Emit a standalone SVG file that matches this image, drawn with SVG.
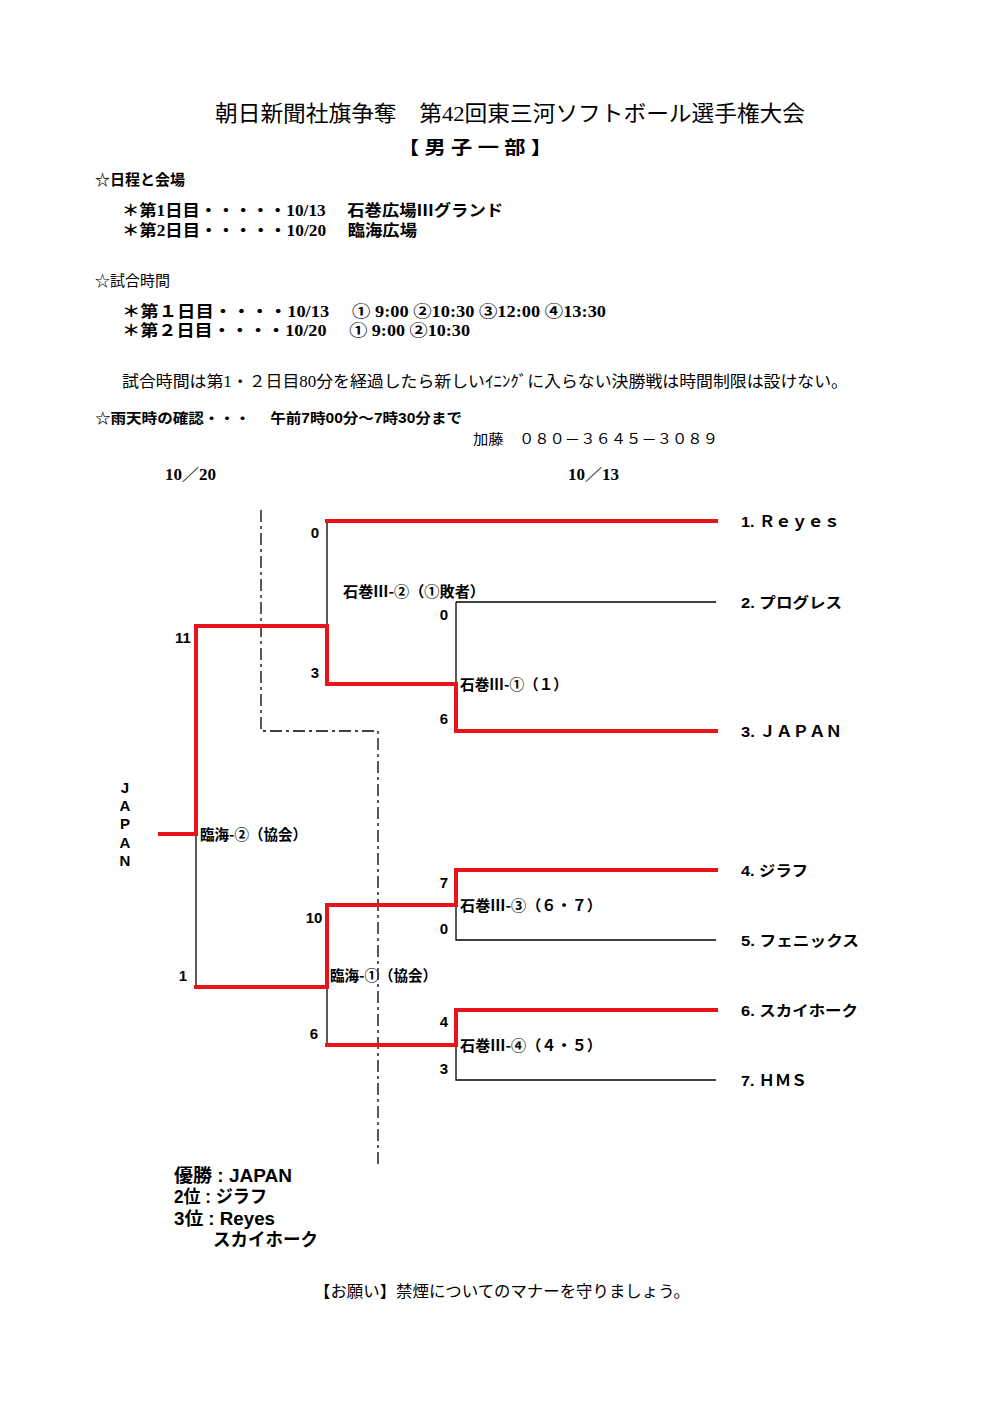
<svg xmlns="http://www.w3.org/2000/svg" width="992" height="1404" viewBox="0 0 992 1404">
<style>
.bg{fill:#fff}
.mi{font-family:"Liberation Serif","Noto Sans CJK JP",serif;fill:#000}
.go{font-family:"Liberation Sans","Noto Sans CJK JP",sans-serif;fill:#000}
.b{font-weight:bold}
.red{stroke:#e8131b;stroke-width:4;fill:none;stroke-linecap:square}
.blk{stroke:#000;stroke-width:1.3;fill:none}
.dash{stroke:#000;stroke-width:1.3;fill:none;stroke-dasharray:12,4,3,4}
.sc{font-family:"Liberation Sans","Noto Sans CJK JP",sans-serif;font-size:15px;font-weight:bold;fill:#000}
.lb{font-family:"Noto Sans CJK JP","Liberation Sans",sans-serif;font-size:15px;font-weight:bold;fill:#000}
.tm{font-family:"Liberation Sans","Noto Sans CJK JP",sans-serif;font-size:15px;font-weight:bold;fill:#000}
</style>
<rect class="bg" x="0" y="0" width="992" height="1404"/>
<g id="header">
<text class="mi" x="215" y="121" font-size="22" textLength="590" lengthAdjust="spacingAndGlyphs">朝日新聞社旗争奪　第42回東三河ソフトボール選手権大会</text>
<text class="mi b" x="398" y="154" font-size="18" textLength="154" lengthAdjust="spacingAndGlyphs">【 男 子 一 部 】</text>
<text class="go b" x="95" y="185" font-size="15">☆日程と会場</text>
<text class="mi b" x="122" y="216" font-size="16" textLength="381" lengthAdjust="spacingAndGlyphs">＊第1日目・・・・・10/13　 石巻広場Ⅲグランド</text>
<text class="mi b" x="122" y="236" font-size="16" textLength="295" lengthAdjust="spacingAndGlyphs">＊第2日目・・・・・10/20　 臨海広場</text>
<text class="go" x="95" y="286" font-size="15">☆試合時間</text>
<text class="mi b" x="122" y="317" font-size="16" textLength="484" lengthAdjust="spacingAndGlyphs">＊第１日目・・・・10/13　 ①  9:00  ②10:30  ③12:00  ④13:30</text>
<text class="mi b" x="122" y="336" font-size="16" textLength="348" lengthAdjust="spacingAndGlyphs">＊第２日目・・・・10/20　 ①  9:00  ②10:30</text>
<text class="mi" x="122" y="387" font-size="16" textLength="726" lengthAdjust="spacingAndGlyphs">試合時間は第1・２日目80分を経過したら新しいｲﾆﾝｸﾞに入らない決勝戦は時間制限は設けない。</text>
<text class="go b" x="95" y="423" font-size="14" textLength="367" lengthAdjust="spacingAndGlyphs">☆雨天時の確認・・・　 午前7時00分～7時30分まで</text>
<text class="go" x="473" y="444" font-size="14" textLength="245" lengthAdjust="spacingAndGlyphs">加藤　０８０－３６４５－３０８９</text>
<text class="mi b" x="165" y="480" font-size="16" textLength="51" lengthAdjust="spacingAndGlyphs">10／20</text>
<text class="mi b" x="568" y="480" font-size="16" textLength="51" lengthAdjust="spacingAndGlyphs">10／13</text>
</g>
<g id="connectors">
<path class="dash" d="M261,510 V731 H378 V1165"/>
<path class="blk" d="M327,521 V626"/>
<path class="blk" d="M456,602 H716 M456,602 V684"/>
<path class="blk" d="M196,834 V987"/>
<path class="blk" d="M456,905 V940 H716"/>
<path class="blk" d="M327,987 V1045"/>
<path class="blk" d="M456,1045 V1080 H716"/>
<path class="red" d="M327,521 H716"/>
<path class="red" d="M716,731 H456 V684 H327 V626 H196 V834 H160"/>
<path class="red" d="M716,870 H456 V905 H327 V987 H196"/>
<path class="red" d="M716,1010 H456 V1045 H327"/>
</g>
<g id="teams">
<g id="team1"><text class="tm" x="741" y="527" textLength="99" lengthAdjust="spacingAndGlyphs">1. Ｒｅｙｅｓ</text></g>
<g id="team2"><text class="tm" x="741" y="608" textLength="101" lengthAdjust="spacingAndGlyphs">2. プログレス</text></g>
<g id="team3"><text class="tm" x="741" y="737" textLength="101" lengthAdjust="spacingAndGlyphs">3. ＪＡＰＡＮ</text></g>
<g id="team4"><text class="tm" x="741" y="876" textLength="67" lengthAdjust="spacingAndGlyphs">4. ジラフ</text></g>
<g id="team5"><text class="tm" x="741" y="946" textLength="118" lengthAdjust="spacingAndGlyphs">5. フェニックス</text></g>
<g id="team6"><text class="tm" x="741" y="1016" textLength="117" lengthAdjust="spacingAndGlyphs">6. スカイホーク</text></g>
<g id="team7"><text class="tm" x="741" y="1086" textLength="66" lengthAdjust="spacingAndGlyphs">7. ＨＭＳ</text></g>
</g>
<g id="matches">
<g id="m_i2"><text class="lb" x="343" y="597" textLength="142" lengthAdjust="spacingAndGlyphs">石巻Ⅲ-②（①敗者）</text></g>
<g id="m_i1"><text class="lb" x="460" y="690" textLength="108" lengthAdjust="spacingAndGlyphs">石巻Ⅲ-①（１）</text></g>
<g id="m_r2"><text class="lb" x="200" y="840" textLength="107" lengthAdjust="spacingAndGlyphs">臨海-②（協会）</text></g>
<g id="m_i3"><text class="lb" x="460" y="911" textLength="142" lengthAdjust="spacingAndGlyphs">石巻Ⅲ-③（６・７）</text></g>
<g id="m_r1"><text class="lb" x="330" y="981" textLength="107" lengthAdjust="spacingAndGlyphs">臨海-①（協会）</text></g>
<g id="m_i4"><text class="lb" x="460" y="1051" textLength="142" lengthAdjust="spacingAndGlyphs">石巻Ⅲ-④（４・５）</text></g>
</g>
<g id="scores">
<text class="sc" x="315" y="538" text-anchor="middle">0</text>
<text class="sc" x="183" y="643" text-anchor="middle">11</text>
<text class="sc" x="315" y="678" text-anchor="middle">3</text>
<text class="sc" x="444" y="620" text-anchor="middle">0</text>
<text class="sc" x="444" y="724" text-anchor="middle">6</text>
<text class="sc" x="444" y="888" text-anchor="middle">7</text>
<text class="sc" x="314" y="923" text-anchor="middle">10</text>
<text class="sc" x="444" y="934" text-anchor="middle">0</text>
<text class="sc" x="183" y="981" text-anchor="middle">1</text>
<text class="sc" x="314" y="1039" text-anchor="middle">6</text>
<text class="sc" x="444" y="1027" text-anchor="middle">4</text>
<text class="sc" x="444" y="1074" text-anchor="middle">3</text>
</g>
<g id="winner">
<text class="go b" font-size="15" text-anchor="middle" x="125" y="793">J</text>
<text class="go b" font-size="15" text-anchor="middle" x="125" y="811">A</text>
<text class="go b" font-size="15" text-anchor="middle" x="125" y="829">P</text>
<text class="go b" font-size="15" text-anchor="middle" x="125" y="848">A</text>
<text class="go b" font-size="15" text-anchor="middle" x="125" y="866">N</text>
</g>
<g id="results">
<text class="go b" x="174" y="1182" font-size="18" textLength="118" lengthAdjust="spacingAndGlyphs">優勝 : JAPAN</text>
<text class="go b" x="174" y="1203" font-size="18" textLength="93" lengthAdjust="spacingAndGlyphs">2位 : ジラフ</text>
<text class="go b" x="174" y="1225" font-size="18" textLength="101" lengthAdjust="spacingAndGlyphs">3位 : Reyes</text>
<text class="go b" x="213" y="1246" font-size="18" textLength="105" lengthAdjust="spacingAndGlyphs">スカイホーク</text>
</g>
<g id="footer">
<text class="mi" x="314" y="1297" font-size="16" textLength="376" lengthAdjust="spacingAndGlyphs">【お願い】禁煙についてのマナーを守りましょう。</text>
</g>
</svg>
